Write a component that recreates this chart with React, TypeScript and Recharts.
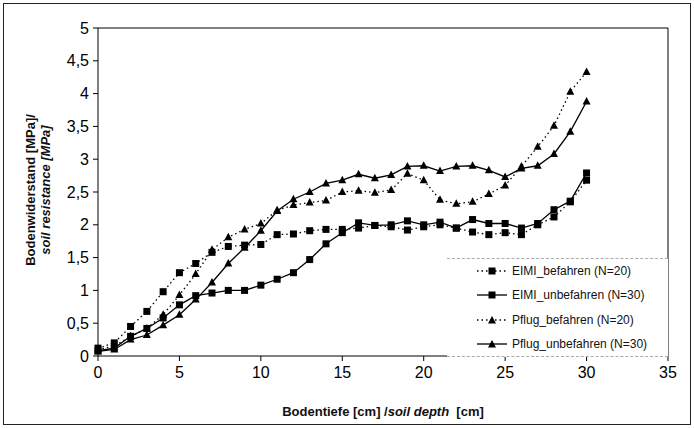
import { LineChart, Line, XAxis, YAxis, ReferenceLine } from "recharts";

const depth = [0, 1, 2, 3, 4, 5, 6, 7, 8, 9, 10, 11, 12, 13, 14, 15, 16, 17, 18, 19, 20, 21, 22, 23, 24, 25, 26, 27, 28, 29, 30];

const eimiBefahren = [0.12, 0.2, 0.45, 0.68, 0.98, 1.27, 1.41, 1.58, 1.67, 1.69, 1.7, 1.85, 1.86, 1.91, 1.93, 1.93, 1.95, 1.99, 1.97, 1.92, 1.97, 2.0, 1.95, 1.89, 1.85, 1.88, 1.85, 2.0, 2.12, 2.35, 2.68];
const eimiUnbefahren = [0.08, 0.12, 0.3, 0.42, 0.58, 0.78, 0.92, 0.96, 1.0, 1.0, 1.08, 1.17, 1.27, 1.47, 1.71, 1.88, 2.03, 1.99, 2.0, 2.06, 2.0, 2.04, 1.95, 2.08, 2.02, 2.02, 1.95, 2.02, 2.23, 2.36, 2.79];
const pflugBefahren = [0.1, 0.15, 0.3, 0.42, 0.63, 0.93, 1.25, 1.62, 1.81, 1.93, 2.02, 2.22, 2.3, 2.34, 2.37, 2.5, 2.52, 2.49, 2.53, 2.78, 2.68, 2.38, 2.32, 2.35, 2.47, 2.6, 2.89, 3.19, 3.51, 4.03, 4.33];
const pflugUnbefahren = [0.07, 0.1, 0.25, 0.32, 0.47, 0.63, 0.86, 1.12, 1.41, 1.65, 1.91, 2.21, 2.39, 2.5, 2.63, 2.68, 2.77, 2.71, 2.76, 2.89, 2.9, 2.82, 2.89, 2.9, 2.83, 2.73, 2.86, 2.9, 3.08, 3.42, 3.88];

const xTicks = [0, 5, 10, 15, 20, 25, 30, 35];
const yTicks = [0, 0.5, 1, 1.5, 2, 2.5, 3, 3.5, 4, 4.5, 5];

const SERIES = [
  { key: "eimiB", name: "EIMI_befahren (N=20)", dashed: true, marker: "square" },
  { key: "eimiU", name: "EIMI_unbefahren (N=30)", dashed: false, marker: "square" },
  { key: "pflugB", name: "Pflug_befahren (N=20)", dashed: true, marker: "triangle" },
  { key: "pflugU", name: "Pflug_unbefahren (N=30)", dashed: false, marker: "triangle" },
];

const data = depth.map((d, i) => ({
  depth: d,
  eimiB: eimiBefahren[i],
  eimiU: eimiUnbefahren[i],
  pflugB: pflugBefahren[i],
  pflugU: pflugUnbefahren[i],
}));

const FONT = "'Liberation Sans', Arial, sans-serif";

function Square(props: any) {
  const { cx, cy } = props;
  if (cx == null || cy == null) return null;
  return <rect x={cx - 3.5} y={cy - 3.5} width={7} height={7} fill="#000" />;
}

function Triangle(props: any) {
  const { cx, cy } = props;
  if (cx == null || cy == null) return null;
  return <path d={`M${cx},${cy - 4.5} L${cx + 4},${cy + 3} L${cx - 4},${cy + 3} Z`} fill="#000" />;
}

function LegendBox() {
  return (
    <div
      style={{
        position: "absolute",
        left: 447,
        top: 258,
        width: 221,
        background: "#fff",
        borderTop: "1px dashed #aaa",
        borderBottom: "1px dashed #aaa",
        padding: "0",
        fontFamily: FONT,
        fontSize: 12,
        color: "#111",
      }}
    >
      {SERIES.map((s) => (
        <div key={s.key} style={{ display: "flex", alignItems: "center", height: 24.3 }}>
          <svg width={34} height={12} style={{ marginLeft: 28, marginRight: 3 }}>
            <line
              x1={2}
              y1={6}
              x2={32}
              y2={6}
              stroke="#000"
              strokeWidth={1.3}
              strokeDasharray={s.dashed ? "1.5 3" : undefined}
            />
            {s.marker === "square" ? <Square cx={17} cy={6} /> : <Triangle cx={17} cy={6.5} />}
          </svg>
          <span>{s.name}</span>
        </div>
      ))}
    </div>
  );
}

export default function App() {
  return (
    <div
      style={{
        position: "absolute",
        left: 0,
        top: 0,
        width: 694,
        height: 428,
        background: "#fff",
        fontFamily: FONT,
      }}
    >
      <div
        style={{
          position: "absolute",
          left: 3,
          top: 3,
          width: 686,
          height: 420,
          border: "1px solid #222",
        }}
      />
      <LineChart
        width={694}
        height={428}
        data={data}
        margin={{ top: 28, right: 26, bottom: 42, left: 58 }}
        style={{ position: "absolute", left: 0, top: 0 }}
      >
        <XAxis
          dataKey="depth"
          type="number"
          domain={[0, 35]}
          ticks={xTicks}
          interval={0}
          height={30}
          stroke="#000"
          tickSize={5}
          tick={{ fill: "#000", fontSize: 16, fontFamily: FONT }}
          tickMargin={6}
        />
        <YAxis
          type="number"
          domain={[0, 5]}
          ticks={yTicks}
          interval={0}
          width={40}
          stroke="#000"
          tickSize={5}
          tickFormatter={(v: number) => String(v).replace(".", ",")}
          tick={{ fill: "#000", fontSize: 16, fontFamily: FONT }}
          tickMargin={4}
        />
        <ReferenceLine y={5} stroke="#000" strokeWidth={1} />
        <ReferenceLine x={35} stroke="#000" strokeWidth={1} />
        {SERIES.map((s) => (
          <Line
            key={s.key}
            dataKey={s.key}
            name={s.name}
            type="linear"
            stroke="#000"
            strokeWidth={1.3}
            strokeDasharray={s.dashed ? "1.5 3" : undefined}
            dot={s.marker === "square" ? <Square /> : <Triangle />}
            activeDot={false}
            isAnimationActive={false}
          />
        ))}
      </LineChart>
      <LegendBox />
      <div
        style={{
          position: "absolute",
          left: 38,
          top: 190,
          transform: "translate(-50%, -50%) rotate(-90deg)",
          whiteSpace: "nowrap",
          textAlign: "center",
          fontSize: 13,
          fontWeight: "bold",
          lineHeight: "15px",
          color: "#111",
        }}
      >
        <div>Bodenwiderstand [MPa]/</div>
        <div style={{ fontStyle: "italic" }}>soil resistance [MPa]</div>
      </div>
      <div
        style={{
          position: "absolute",
          left: 383,
          top: 411,
          transform: "translate(-50%, -50%)",
          whiteSpace: "nowrap",
          fontSize: 13,
          fontWeight: "bold",
          color: "#111",
        }}
      >
        Bodentiefe [cm] /<span style={{ fontStyle: "italic" }}>soil depth</span>&nbsp; [cm]
      </div>
    </div>
  );
}
